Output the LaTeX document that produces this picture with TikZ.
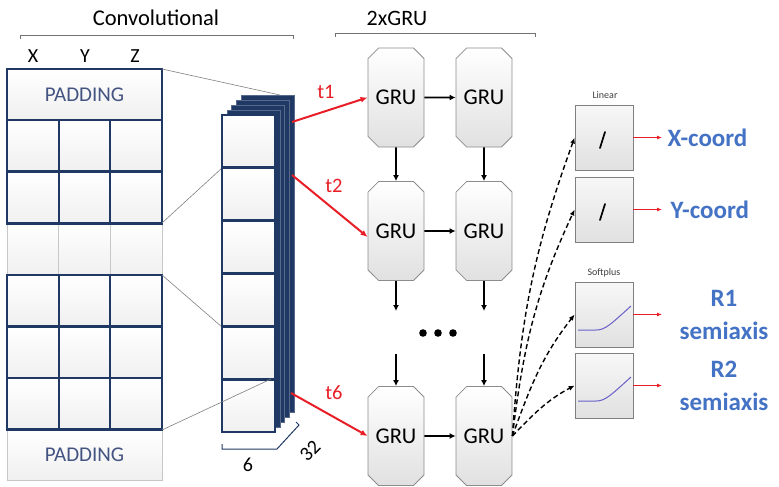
\documentclass[tikz,border=0pt]{standalone}
\usepackage{fontspec}
\setmainfont{Carlito}
\usetikzlibrary{shapes.misc,arrows.meta}
\definecolor{navy}{RGB}{31,56,100}
\definecolor{padtxt}{RGB}{68,84,130}
\definecolor{outblue}{RGB}{68,114,196}
\definecolor{redarr}{RGB}{232,30,38}
\definecolor{softc}{RGB}{105,95,200}
\begin{document}
\begin{tikzpicture}[x=1pt,y=-1pt,
  cellfill/.style={top color=white,bottom color=black!6},
  darkcell/.style={cellfill,draw=navy,line width=2.3pt},
  lightcell/.style={cellfill,draw=black!22,line width=.7pt},
  gru/.style={chamfered rectangle,chamfered rectangle xsep=10pt,draw=black!45,line width=.8pt,
    top color=white,bottom color=black!12,minimum width=56pt,minimum height=99pt,inner sep=0pt,
    font=\fontsize{22.5}{22.5}\selectfont},
  outbox/.style={rectangle,draw=black!50,line width=.7pt,top color=black!3,bottom color=black!12,
    minimum width=58pt,minimum height=65pt,inner sep=0pt},
  lbl/.style={font=\fontsize{20}{20}\selectfont},
  padlbl/.style={font=\fontsize{21}{21}\selectfont,text=padtxt},
  tlbl/.style={font=\fontsize{20.5}{20.5}\selectfont,text=redarr},
  outlbl/.style={font=\bfseries\fontsize{25}{33}\selectfont,text=outblue,align=center},
  smalllbl/.style={font=\fontsize{10}{10}\selectfont,text=black!75},
  brk/.style={draw=black!55,line width=.8pt},
  conn/.style={draw=black!50,line width=.6pt},
  redar/.style={draw=redarr,line width=2pt,-{Latex[length=7pt,width=6pt]}},
  blkar/.style={draw=black,line width=1.8pt,-{Latex[length=6pt,width=6pt]}},
  dasharr/.style={draw=black,line width=1.4pt,dashed,dash pattern=on 5pt off 3pt,-{Latex[length=6pt,width=5pt]}},
  smallred/.style={draw=redarr,line width=.9pt,-{Latex[length=5pt,width=4pt]}}
]
\useasboundingbox (0,0) rectangle (779,487);

% ---------- titles and brackets ----------
\node[font=\fontsize{22.5}{22.5}\selectfont] (convt) at (156,18) {Convolutional};
\node[font=\fontsize{22}{22}\selectfont] (grut) at (397,18) {2xGRU};
\draw[brk] (20,39) -- (20,35) -- (293,35) -- (293,39);
\draw[brk] (335,37) -- (335,33) -- (535,33) -- (535,37);
\node[lbl] (lx) at (33,56) {X};
\node[lbl] (ly) at (85,56) {Y};
\node[lbl] (lz) at (135,56) {Z};

% ---------- input grid ----------
\foreach \c in {0,1,2} {
  \draw[lightcell] ({7+51.67*\c},223) rectangle ({7+51.67*(\c+1)},275);
}
\draw[lightcell] (7,430) rectangle (162,480);
\node[padlbl] (padb) at (84.5,455) {PADDING};
\draw[darkcell] (7,69) rectangle (162,120);
\node[padlbl] (padt) at (84.5,94.5) {PADDING};
\foreach \y in {120,172,275,327,378} {
  \foreach \c in {0,1,2} {
    \draw[darkcell] ({7+51.67*\c},\y) rectangle ({7+51.67*(\c+1)},{\y+51.5});
  }
}

% ---------- grid-to-stack lines ----------
\coordinate (g1) at (162,69);
\coordinate (g2) at (162,223);
\coordinate (g3) at (162,275);
\coordinate (g4) at (162,430);
\coordinate (s1) at (280,95);
\coordinate (s2) at (222,168);
\coordinate (s3) at (222,327);
\coordinate (s4) at (271,379);
\draw[conn] (g1) -- (s1);
\draw[conn] (g2) -- (s2);
\draw[conn] (g3) -- (s3);

% ---------- feature stack ----------
\foreach \k in {4,3,2,1} {
  \filldraw[fill=navy,draw=navy!75!white,line width=.4pt,shift={({4.75*\k},{-5*\k})}]
    (222,115) rectangle (275,432);
}
\foreach \i in {0,...,5} {
  \draw[cellfill,draw=navy,line width=2.8pt] (222,{115+52.83*\i}) rectangle (275,{115+52.83*(\i+1)});
}
\draw[conn] (g4) -- (s4);

% dimension brackets
\draw[draw=navy,line width=1pt] (222,444) -- (222,449) -- (277,449) -- (299,425) -- (296,422);
\node[lbl] (d6) at (248,465) {6};
\node[lbl,rotate=45] (d32) at (310,451) {32};

% ---------- GRU grid ----------
\node[gru] (g11) at (396,97.5) {GRU};
\node[gru] (g12) at (484,97.5) {GRU};
\node[gru] (g21) at (396,231) {GRU};
\node[gru] (g22) at (484,231) {GRU};
\node[gru] (g31) at (396,436) {GRU};
\node[gru] (g32) at (484,436) {GRU};

\draw[blkar] (g11) -- (g12);
\draw[blkar] (g21) -- (g22);
\draw[blkar] (g31) -- (g32);
\draw[blkar] (g11) -- (g21);
\draw[blkar] (g12) -- (g22);
\coordinate (e1) at (396,311);
\coordinate (e2) at (484,311);
\coordinate (f1) at (396,354);
\coordinate (f2) at (484,354);
\draw[blkar] (g21) -- (e1);
\draw[blkar] (g22) -- (e2);
\draw[blkar] (f1) -- (g31);
\draw[blkar] (f2) -- (g32);
\foreach \x/\n in {423/da,438/db,453/dc} {
  \fill (\x,333) circle (3.8pt) coordinate (\n);
}

% ---------- red time-step arrows ----------
\coordinate (t1s) at (292,122);
\coordinate (t2s) at (292,175);
\coordinate (t6s) at (291,393);
\draw[redar] (t1s) -- (g11.west);
\draw[redar] (t2s) -- ([yshift=-6pt]g21.west);
\draw[redar] (t6s) -- (g31.west);
\node[tlbl] (t1) at (326,92) {t1};
\node[tlbl] (t2) at (334,186) {t2};
\node[tlbl] (t6) at (334,393) {t6};

% ---------- output heads ----------
\node[outbox] (b1) at (604,137.5) {};
\node[outbox] (b2) at (604,209.5) {};
\node[outbox] (b3) at (604,314.5) {};
\node[outbox] (b4) at (604,385.5) {};
\node[smalllbl] (linl) at (605,95) {Linear};
\node[smalllbl] (softl) at (604,273) {Softplus};

\draw[line width=1.7pt,line cap=round] (600,148) -- (605,132);
\draw[line width=1.7pt,line cap=round] (600,220) -- (605,204);
\draw[softc,line width=1pt] (578,330) -- (596,330) .. controls (605,330) and (610,325) .. (631,306);
\draw[softc,line width=1pt] (578,401) -- (596,401) .. controls (605,401) and (610,396) .. (631,377);

\draw[dasharr] (g32.east) to[out=86,in=-110] (b1.west);
\draw[dasharr] (g32.east) to[out=83,in=-115] (b2.west);
\draw[dasharr] (g32.east) to[out=70,in=-128] (b3.west);
\draw[dasharr] (g32.east) to[out=46,in=-152] (b4.west);

\coordinate (o1) at (662,137.5);
\coordinate (o2) at (662,209.5);
\coordinate (o3) at (662,314.5);
\coordinate (o4) at (662,385.5);
\draw[smallred] (b1.east) -- (o1);
\draw[smallred] (b2.east) -- (o2);
\draw[smallred] (b3.east) -- (o3);
\draw[smallred] (b4.east) -- (o4);

\node[outlbl,anchor=west] (xc) at (664,138) {X-coord};
\node[outlbl,anchor=west] (yc) at (667,210) {Y-coord};
\node[outlbl] (r1) at (724,315) {R1\\semiaxis};
\node[outlbl] (r2) at (724,386) {R2\\semiaxis};
\end{tikzpicture}
\end{document}
